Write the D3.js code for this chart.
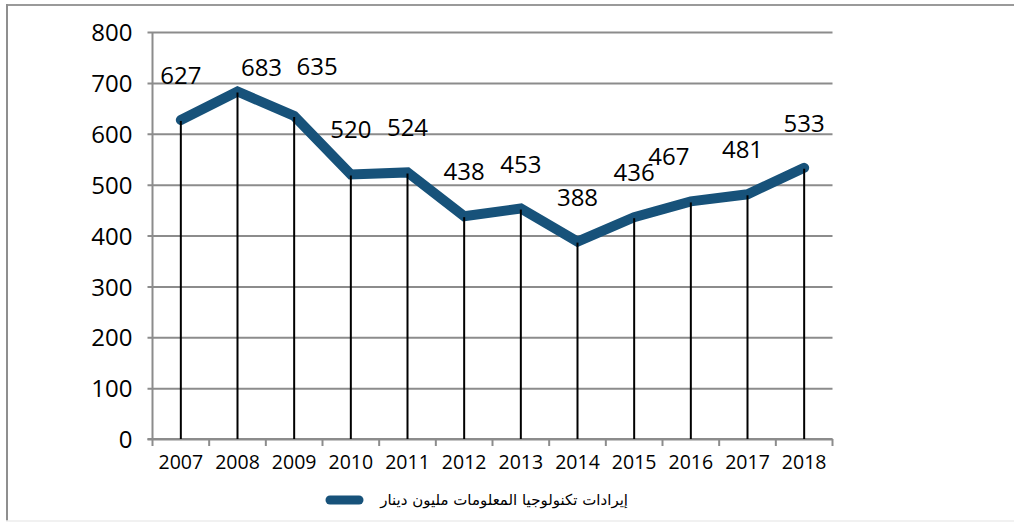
<!DOCTYPE html>
<html>
<head>
<meta charset="utf-8">
<script src="https://cdn.jsdelivr.net/npm/d3@7"></script>
<style>
  html, body { margin: 0; padding: 0; background: #fff; }
  svg { display: block; }
</style>
</head>
<body>
<svg id="chart" width="1014" height="522"></svg>
<script>
// Yearly revenue (million dinars)
const years = ["2007", "2008", "2009", "2010", "2011", "2012", "2013", "2014", "2015", "2016", "2017", "2018"];
const revenue = [627, 683, 635, 520, 524, 438, 453, 388, 436, 467, 481, 533];
const yTicks = [0, 100, 200, 300, 400, 500, 600, 700, 800];
const seriesName = "إيرادات تكنولوجيا المعلومات مليون دينار";

// Small nudges for value labels that would otherwise crowd each other
const labelNudge = { "2008": [24, 20], "2009": [23, -5], "2016": [-22, 0], "2017": [-5, 0] };

const svg = d3.select("#chart");
const margin = { left: 152.5, right: 832.5, top: 32, bottom: 439 };
const lineColor = "#17527a";
const gridColor = "#8c8c8c";
const numFont = "'Open Sans', 'Noto Sans', sans-serif";

// Outer frame
svg.append("line").attr("x1", 7).attr("x2", 1014).attr("y1", 5).attr("y2", 5)
  .attr("stroke", "#9a9a9a").attr("stroke-width", 2);
svg.append("line").attr("x1", 7).attr("x2", 7).attr("y1", 4).attr("y2", 521)
  .attr("stroke", "#8f8f8f").attr("stroke-width", 2);
svg.append("line").attr("x1", 6).attr("x2", 1014).attr("y1", 521).attr("y2", 521)
  .attr("stroke", "#ececec").attr("stroke-width", 1.5);

const x = d3.scaleBand().domain(years).range([margin.left, margin.right]);
const y = d3.scaleLinear().domain([0, 800]).range([margin.bottom, margin.top]);

// Horizontal gridlines with short ticks to the left of the axis
const gy = svg.append("g")
  .attr("transform", `translate(${margin.left},0)`)
  .call(d3.axisLeft(y).tickValues(yTicks)
    .tickSize(-(margin.right - margin.left)).tickPadding(20).tickFormat(d3.format("d")));
gy.select(".domain").remove();
gy.selectAll(".tick line")
  .attr("x1", -5)
  .attr("stroke", gridColor).attr("stroke-width", 2);
gy.selectAll(".tick text")
  .attr("font-family", numFont).attr("font-size", 24).attr("fill", "#000")
  .attr("dy", "0.36em");

// Y axis line
svg.append("line")
  .attr("x1", margin.left).attr("x2", margin.left)
  .attr("y1", margin.top).attr("y2", margin.bottom)
  .attr("stroke", gridColor).attr("stroke-width", 2);

// X axis: ticks on band boundaries, labels centered in each band
const gx = svg.append("g").attr("transform", `translate(0,${margin.bottom})`);
gx.append("line")
  .attr("x1", margin.left - 5).attr("x2", margin.right)
  .attr("stroke", gridColor).attr("stroke-width", 2);
const bounds = years.map(d => x(d)).concat([x(years[years.length - 1]) + x.bandwidth()]);
gx.selectAll("line.bt").data(bounds).join("line").attr("class", "bt")
  .attr("x1", d => d).attr("x2", d => d).attr("y1", 0).attr("y2", 7)
  .attr("stroke", gridColor).attr("stroke-width", 2);
gx.selectAll("text").data(years).join("text")
  .attr("x", d => x(d) + x.bandwidth() / 2).attr("y", 30)
  .attr("text-anchor", "middle")
  .attr("font-family", numFont).attr("font-size", 19.5).attr("fill", "#000")
  .text(d => d);

const cx = d => x(d) + x.bandwidth() / 2;
const pts = years.map((d, i) => ({ year: d, value: revenue[i] }));

// Revenue line
svg.append("path").datum(pts)
  .attr("d", d3.line().x(d => cx(d.year)).y(d => y(d.value)))
  .attr("fill", "none").attr("stroke", lineColor).attr("stroke-width", 10)
  .attr("stroke-linecap", "round").attr("stroke-linejoin", "miter");

// Drop lines from each point to the baseline
svg.selectAll("line.drop").data(pts).join("line").attr("class", "drop")
  .attr("x1", d => cx(d.year)).attr("x2", d => cx(d.year))
  .attr("y1", d => y(d.value) + 1).attr("y2", margin.bottom)
  .attr("stroke", "#000").attr("stroke-width", 2);

// Value labels
svg.selectAll("text.val").data(pts).join("text").attr("class", "val")
  .attr("x", d => cx(d.year) + (labelNudge[d.year] ? labelNudge[d.year][0] : 0))
  .attr("y", d => y(d.value) - 36 + (labelNudge[d.year] ? labelNudge[d.year][1] : 0))
  .attr("text-anchor", "middle")
  .attr("font-family", numFont).attr("font-size", 24).attr("fill", "#000")
  .text(d => d.value);

// Legend
const legY = 500;
svg.append("line")
  .attr("x1", 330).attr("x2", 359).attr("y1", legY).attr("y2", legY)
  .attr("stroke", lineColor).attr("stroke-width", 9).attr("stroke-linecap", "round");
svg.append("text")
  .attr("x", 628).attr("y", legY + 5)
  .attr("text-anchor", "end")
  .attr("font-family", "'DejaVu Sans', sans-serif").attr("font-size", 15).attr("fill", "#000")
  .text(seriesName);
</script>
</body>
</html>
